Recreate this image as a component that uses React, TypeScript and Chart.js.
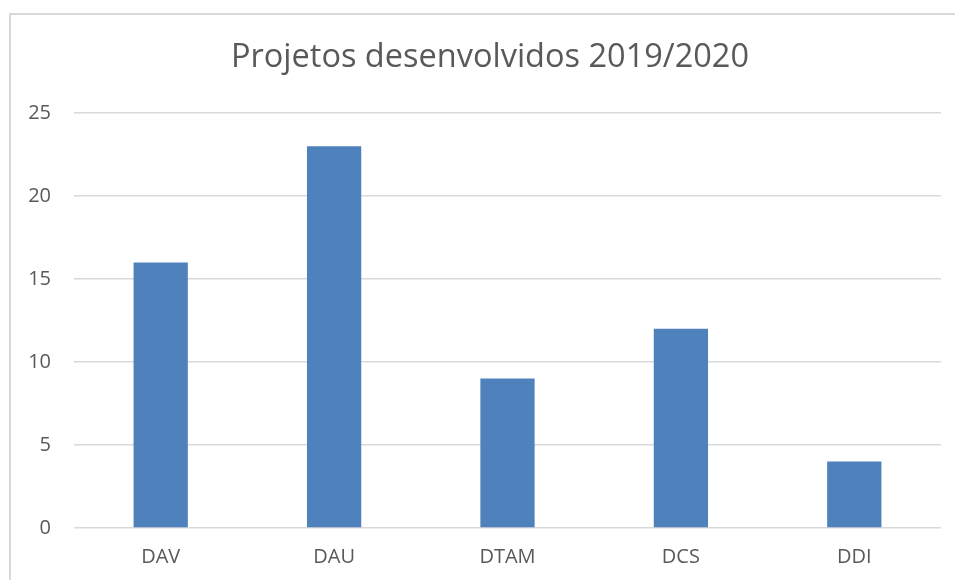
import React, { useEffect, useRef } from "react";
import { Chart, registerables } from "chart.js";

Chart.register(...registerables);

const categories = ["DAV", "DAU", "DTAM", "DCS", "DDI"];
const projetos = [16, 23, 9, 12, 4];
const titleText = "Projetos desenvolvidos 2019/2020";

const TITLE_FONT = "normal 32.5px 'Open Sans', sans-serif";

const centeredTitle = {
  id: "centeredTitle",
  afterDraw(chart: any) {
    const tb = chart.titleBlock;
    if (!tb) return;
    const ctx = chart.ctx;
    ctx.save();
    ctx.font = TITLE_FONT;
    ctx.fillStyle = "#595959";
    ctx.textAlign = "center";
    ctx.textBaseline = "middle";
    const y = tb.top + 38 + (32.5 * 1.2) / 2;
    ctx.fillText(titleText, 490, y);
    ctx.restore();
  },
};

export default function App() {
  const ref = useRef<HTMLCanvasElement | null>(null);
  useEffect(() => {
    if (!ref.current) return;
    const chart = new Chart(ref.current, {
      type: "bar",
      data: {
        labels: categories,
        datasets: [
          {
            label: "Projetos",
            data: projetos,
            backgroundColor: "#4f81bd",
            borderWidth: 0,
            barPercentage: 0.313,
            categoryPercentage: 1,
          },
        ],
      },
      plugins: [centeredTitle],
      options: {
        responsive: false,
        animation: false,
        layout: { padding: { top: 0, right: 14, bottom: 0, left: 0 } },
        plugins: {
          legend: { display: false },
          tooltip: { enabled: false },
          title: {
            display: true,
            text: titleText,
            color: "rgba(0,0,0,0)",
            font: { family: "'Open Sans', sans-serif", size: 32.5, weight: "normal", lineHeight: 1.2 },
            padding: { top: 38, bottom: 36 },
          },
        },
        scales: {
          x: {
            grid: { display: false, drawTicks: false },
            border: { display: false },
            ticks: {
              color: "#595959",
              font: { family: "'Open Sans', sans-serif", size: 20 },
              padding: 17,
            },
            afterFit: (s: any) => {
              s.height = 52;
            },
          },
          y: {
            min: 0,
            max: 25,
            ticks: {
              stepSize: 5,
              color: "#595959",
              font: { family: "'Open Sans', sans-serif", size: 20 },
              padding: 23,
            },
            grid: { color: "#d9d9d9", lineWidth: 1.5, drawTicks: false },
            border: { display: false },
            afterFit: (s: any) => {
              s.width = 74;
            },
          },
        },
      },
    });
    return () => chart.destroy();
  }, []);
  return (
    <div
      style={{
        position: "fixed",
        left: 0,
        top: 0,
        width: 955,
        height: 580,
        overflow: "hidden",
        background: "#fff",
      }}
    >
      <div
        style={{
          position: "absolute",
          left: 9,
          top: 13,
          width: 1200,
          height: 1200,
          border: "2px solid #d9d9d9",
          boxSizing: "border-box",
        }}
      />
      <canvas
        ref={ref}
        width={955}
        height={580}
        style={{ position: "absolute", left: 0, top: 0 }}
      />
    </div>
  );
}
